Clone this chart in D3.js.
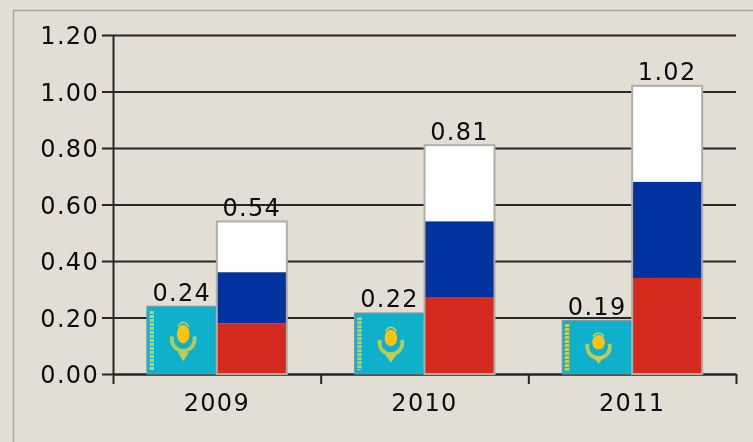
<!DOCTYPE html>
<html><head><meta charset="utf-8">
<script src="https://cdn.jsdelivr.net/npm/d3@7/dist/d3.min.js"></script>
<style>
html,body{margin:0;padding:0;background:#E3DED3;overflow:hidden}
svg{display:block;filter:blur(0.35px)}
text{font-family:"DejaVu Sans",sans-serif;font-size:24px;letter-spacing:1.3px;fill:#0c0c0c}
</style></head><body><svg id="c" width="753" height="442"></svg>
<script>
const years = ["2009","2010","2011"];
const kazakhstan = [0.24,0.216,0.19];
const russia = [0.54,0.81,1.02];
const yTicks = [0,0.2,0.4,0.6,0.8,1.0,1.2];
const russiaStripes = ["#ffffff","#0033A0","#D52B1E"];

const svg = d3.select("#c");
const ink = "#262624";
const L=113,R=736,T=35,B=374,barW=70;
const y = d3.scaleLinear().domain([0,1.2]).range([B,T]);
const x = d3.scaleBand().domain(years).range([L,R]);
const edge = d3.scaleLinear().domain([0,3]).range([L,R]);

svg.append("path").attr("d","M13.5,442V10.5H753").attr("fill","none").attr("stroke","#aaa69c").attr("stroke-width",1.5);

// gridlines
const grid = svg.append("g").attr("transform",`translate(${L},0)`)
  .call(d3.axisRight(y).tickValues(yTicks).tickSize(R-L).tickFormat(""));
grid.select(".domain").remove();
grid.selectAll("line").attr("stroke",ink).attr("stroke-width",2);

// y axis
const ya = svg.append("g").attr("transform",`translate(${L},0)`)
  .call(d3.axisLeft(y).tickValues(yTicks).tickSize(11).tickSizeOuter(0).tickPadding(3).tickFormat(d3.format(".2f")));
ya.select(".domain").attr("stroke",ink).attr("stroke-width",2);
ya.selectAll("line").attr("stroke",ink).attr("stroke-width",2);
ya.selectAll("text").attr("dy","0.36em");
ya.attr("font-family",null).attr("font-size",null);

// x axis
const xb = svg.append("g").attr("transform",`translate(0,${B})`)
  .call(d3.axisBottom(edge).tickValues([0,1,2,3]).tickSize(10).tickSizeOuter(0).tickFormat(""));
xb.select(".domain").attr("stroke",ink).attr("stroke-width",2);
xb.selectAll("line").attr("stroke",ink).attr("stroke-width",2);
const xl = svg.append("g").attr("transform",`translate(0,${B})`)
  .call(d3.axisBottom(x).tickSize(0).tickPadding(20));
xl.select(".domain").remove();
xl.attr("font-family",null).attr("font-size",null);
xl.selectAll("text").attr("dy","0.71em");

// Kazakhstan flags
years.forEach((yr,i)=>{
  const cx = x(yr)+x.bandwidth()/2;
  const x0 = cx-barW, top=y(kazakhstan[i]), h=B-top;
  const g = svg.append("g").attr("transform",`translate(${x0},${top})`);
  g.append("rect").attr("width",barW).attr("height",h).attr("fill","#0FB0CC").attr("stroke","#7d9aa0").attr("stroke-width",1);
  const wreath="#C9CE4E", sun="#FBC310";
  // hoist ornament
  g.append("line").attr("x1",barW*0.07).attr("x2",barW*0.07).attr("y1",h*0.07).attr("y2",h*0.94)
    .attr("stroke","#C6CE52").attr("stroke-width",4.5).attr("stroke-dasharray","3 1");
  const c=barW*0.52, m=h*0.41, s=Math.min(barW,h*1.3);
  // wings and wreath
  const wing = d3.arc().innerRadius(s*0.135).outerRadius(s*0.19);
  g.append("path").attr("transform",`translate(${c},${m+h*0.08})`)
    .attr("d",wing({startAngle:Math.PI*0.42,endAngle:Math.PI*1.58}))
    .attr("fill",wreath).attr("opacity",0.9);
  g.append("path").attr("d",`M${c-s*0.08},${m+h*0.27}L${c+s*0.08},${m+h*0.27}L${c},${m+h*0.4}Z`).attr("fill",wreath);
  g.append("ellipse").attr("cx",c).attr("cy",m).attr("rx",s*0.09).attr("ry",h*0.135).attr("fill",sun);
  g.append("path").attr("d",`M${c-s*0.08},${m-h*0.11}Q${c},${m-h*0.24} ${c+s*0.08},${m-h*0.11}`)
    .attr("fill","none").attr("stroke",wreath).attr("stroke-width",1.5);
});

// Russia flags
years.forEach((yr,i)=>{
  const cx = x(yr)+x.bandwidth()/2, v=russia[i];
  const stripes = d3.scaleBand().domain(russiaStripes).range([y(v),B]);
  svg.selectAll(null).data(russiaStripes).join("rect")
    .attr("x",cx).attr("y",d=>stripes(d)).attr("width",barW).attr("height",stripes.bandwidth()).attr("fill",d=>d);
  svg.append("rect").attr("x",cx).attr("y",y(v)).attr("width",barW).attr("height",B-y(v))
    .attr("fill","none").attr("stroke","#b0aca6").attr("stroke-width",2);
});

// value labels
const lbl = d3.format(".2f");
years.forEach((yr,i)=>{
  const cx = x(yr)+x.bandwidth()/2;
  svg.append("text").attr("x",cx-barW/2).attr("y",y(kazakhstan[i])-5.5).attr("text-anchor","middle").text(lbl(kazakhstan[i]));
  svg.append("text").attr("x",cx+barW/2).attr("y",y(russia[i])-5.5).attr("text-anchor","middle").text(lbl(russia[i]));
});
</script></body></html>
